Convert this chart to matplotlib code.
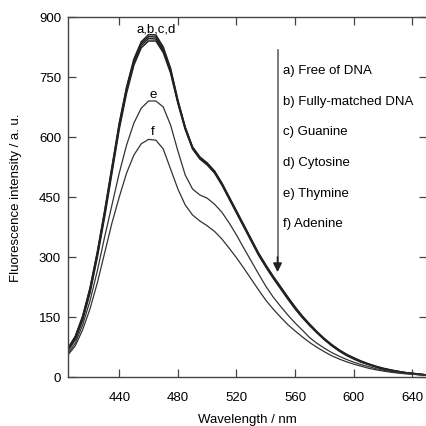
import matplotlib
matplotlib.use("Agg")
import matplotlib.pyplot as plt

plt.rcParams['font.family'] = ['Liberation Sans', 'DejaVu Sans']

# wavelength grid (nm), read every 5 nm
wl = list(range(405, 651, 5))

# a) Free of DNA
a = [72, 102, 152, 222, 312, 415, 525, 635, 725, 795, 838, 856, 855, 825, 772, 692,
     625, 575, 550, 535, 515, 485, 450, 415, 380, 345, 310, 280, 252, 226, 200, 175,
     152, 132, 113, 96, 81, 68, 57, 48, 40, 33, 27, 22, 18, 14, 11, 9, 7, 5]
# b) Fully-matched DNA
b = [70, 100, 150, 220, 310, 412, 522, 632, 722, 791, 834, 851, 850, 820, 768, 690,
     623, 574, 549, 534, 514, 484, 449, 414, 379, 344, 309, 279, 251, 225, 199, 174,
     151, 131, 112, 95, 80, 67, 56, 47, 39, 32, 26, 21, 17, 14, 11, 9, 7, 5]
# c) Guanine
c = [67, 96, 145, 214, 304, 406, 516, 626, 716, 786, 829, 846, 845, 816, 764, 687,
     621, 572, 547, 532, 512, 482, 447, 412, 377, 342, 307, 277, 249, 223, 197, 172,
     150, 130, 111, 94, 79, 66, 55, 46, 38, 32, 26, 21, 17, 14, 11, 9, 7, 5]
# d) Cytosine
d = [65, 94, 142, 210, 299, 400, 510, 620, 710, 780, 823, 840, 840, 811, 760, 684,
     619, 570, 545, 530, 510, 480, 445, 410, 375, 340, 305, 275, 247, 221, 195, 170,
     148, 128, 110, 93, 78, 65, 54, 45, 37, 31, 25, 20, 16, 13, 10, 8, 6, 5]
# e) Thymine
e = [58, 85, 130, 190, 265, 350, 430, 510, 580, 635, 672, 690, 690, 675, 630, 565,
     505, 470, 455, 447, 432, 412, 385, 355, 322, 290, 258, 227, 200, 177, 155, 135,
     117, 98, 84, 72, 61, 52, 44, 37, 31, 26, 21, 17, 14, 11, 9, 7, 6, 5]
# f) Adenine
f = [55, 78, 118, 170, 235, 310, 385, 450, 510, 555, 583, 594, 592, 570, 520, 470,
     430, 405, 390, 378, 364, 345, 322, 298, 272, 245, 218, 192, 170, 150, 131, 115,
     100, 86, 74, 63, 53, 45, 38, 32, 27, 22, 18, 15, 12, 10, 8, 7, 5, 4]

legend_lines = ['a) Free of DNA', 'b) Fully-matched DNA', 'c) Guanine',
                'd) Cytosine', 'e) Thymine', 'f) Adenine']

fs = 9.5
fig = plt.figure(figsize=(4.26, 4.27), dpi=100)
ax = fig.add_axes([0.1596, 0.1148, 0.8427, 0.8431])

for y in [a, b, c, d]:
    ax.plot(wl, y, color='#222222', lw=1.1)
for y in [e, f]:
    ax.plot(wl, y, color='#333333', lw=0.9)

ax.text(465, 870, 'a,b,c,d', ha='center', va='center', fontsize=fs)
ax.text(463, 707, 'e', ha='center', va='center', fontsize=fs)
ax.text(463, 615, 'f', ha='center', va='center', fontsize=fs)

# arrow and list of conditions
ax.plot([548, 548], [818, 280], color='#666666', lw=1.2)
ax.annotate('', xy=(548, 262), xytext=(548, 300),
            arrowprops=dict(arrowstyle='-|>', color='#222222', lw=1.2,
                            mutation_scale=13, shrinkA=0, shrinkB=0))
for i, s in enumerate(legend_lines):
    ax.text(552, 767 - i * 76.5, s, ha='left', va='center', fontsize=fs)

ax.set_xlim(405, 650)
ax.set_ylim(0, 900)
ax.set_xticks([440, 480, 520, 560, 600, 640])
ax.set_yticks([0, 150, 300, 450, 600, 750, 900])
ax.tick_params(direction='in', length=6, width=0.9, top=True, right=True,
               labelsize=fs, color='#444444')
ax.tick_params(axis='x', pad=10)
ax.tick_params(axis='y', pad=5)
for sp in ax.spines.values():
    sp.set_color('#444444')
    sp.set_linewidth(1.0)

ax.set_xlabel('Wavelength / nm', fontsize=fs, labelpad=7)
ax.set_ylabel('Fluorescence intensity / a. u.', fontsize=fs, labelpad=12)

fig.savefig('out.png', dpi=100)
